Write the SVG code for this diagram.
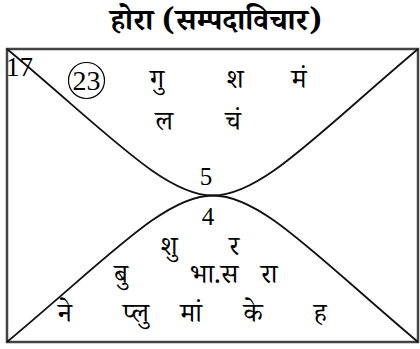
<svg xmlns="http://www.w3.org/2000/svg" width="420" height="349" viewBox="0 0 420 349">
<style>
.t{font-family:"Noto Serif Devanagari","Noto Sans Devanagari","Lohit Devanagari","FreeSerif","Noto Sans",sans-serif;font-size:27px;fill:#000;text-anchor:middle}
.n{font-family:"Liberation Serif",serif;font-size:25px;fill:#000;text-anchor:middle}
.c{fill:none;stroke:#111;stroke-width:1.8}
</style>
<rect width="420" height="349" fill="#fff"/>
<text x="216" y="30" class="t" style="font-size:30px;font-weight:bold">होरा (सम्पदाविचार)</text>
<g id="frame"><rect x="7" y="49" width="411" height="293" fill="none" stroke="#444" stroke-width="2.5"/></g>
<g id="connectors">
<path class="c" d="M7,49 C110,135 165,195.5 213,195.5 C261,195.5 316,135 418,49"/>
<path class="c" d="M7,342 C110,256 165,195.5 213,195.5 C261,195.5 316,256 418,342"/>
</g>
<g id="house-top">
<text x="6" y="76" class="n" style="font-size:27px;text-anchor:start">17</text>
<circle cx="86.5" cy="80.5" r="18" fill="none" stroke="#000" stroke-width="1.2"/>
<text x="86.5" y="90" class="n" style="font-size:28px">23</text>
<text x="157" y="88" class="t">गु</text>
<text x="235" y="88" class="t">श</text>
<text x="299" y="88" class="t">मं</text>
<text x="164" y="130" class="t">ल</text>
<text x="233" y="130" class="t">चं</text>
<text x="206" y="185" class="n">5</text>
</g>
<g id="house-bottom">
<text x="208" y="225" class="n">4</text>
<text x="169" y="255" class="t">शु</text>
<text x="234" y="255" class="t">र</text>
<text x="121" y="283" class="t">बु</text>
<text x="214" y="283" class="t">भा.स</text>
<text x="269" y="283" class="t">रा</text>
<text x="65" y="322" class="t">ने</text>
<text x="136" y="322" class="t">प्लु</text>
<text x="191" y="322" class="t">मां</text>
<text x="253" y="322" class="t">के</text>
<text x="320" y="322" class="t">ह</text>
</g>
</svg>
